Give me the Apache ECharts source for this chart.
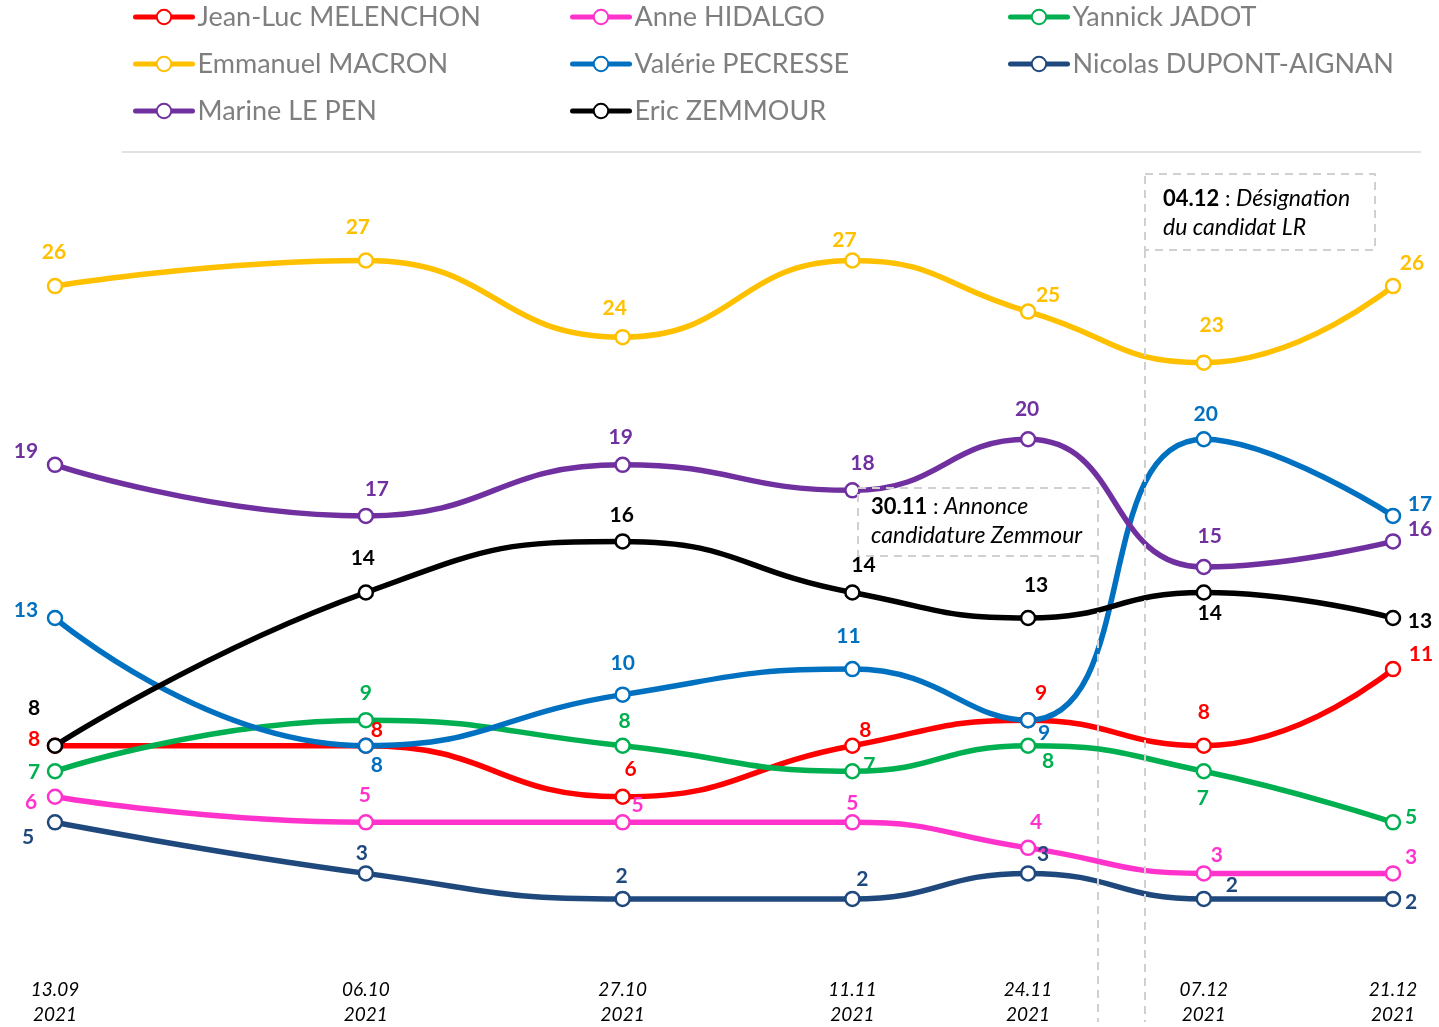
<!DOCTYPE html>
<html>
<head>
<meta charset="utf-8">
<title>Sondages présidentielle 2022</title>
<script src="https://cdn.jsdelivr.net/npm/echarts@6/dist/echarts.min.js"></script>
<style>
  html, body { margin: 0; padding: 0; background: #fff; }
  #main { width: 1439px; height: 1027px; }
</style>
</head>
<body>
<div id="main"></div>
<script>
var pollDay = [0, 23, 42, 59, 72, 85, 99];
var pollDate = ['13.09', '06.10', '27.10', '11.11', '24.11', '07.12', '21.12'];
var pollYear = '2021';

var melenchon = [8, 8, 6, 8, 9, 8, 11];
var hidalgo = [6, 5, 5, 5, 4, 3, 3];
var jadot = [7, 9, 8, 7, 8, 7, 5];
var macron = [26, 27, 24, 27, 25, 23, 26];
var pecresse = [13, 8, 10, 11, 9, 20, 17];
var dupontAignan = [5, 3, 2, 2, 3, 2, 2];
var lePen = [19, 17, 19, 18, 20, 15, 16];
var zemmour = [8, 14, 16, 14, 13, 14, 13];

var FONT = 'Lato, "Open Sans", sans-serif';

// decalage des etiquettes [dx, dy] par rapport au point
var labelShift = {
    mel: [[-21, -6], [11, -15], [8, -28], [13, -15], [13, -27], [0, -33], [28, -15]],
    hid: [[-24, 5], [-1, -27], [15, -17], [0, -19], [8, -26], [13, -18], [18, -16]],
    jad: [[-21, 1], [0, -27], [2, -24], [17, -6], [20, 16], [-1, 27], [18, -5]],
    mac: [[-1, -34], [-8, -33], [-8, -29], [-8, -20], [20, -16], [8, -37], [19, -23]],
    pec: [[-29, -8], [11, 20], [0, -31], [-4, -33], [16, 13], [2, -25], [27, -12]],
    nda: [[-27, 15], [-4, -20], [-1, -23], [10, -20], [15, -19], [28, -14], [18, 3]],
    lp: [[-29, -14], [11, -27], [-2, -28], [10, -27], [-1, -30], [6, -31], [27, -12]],
    zem: [[-21, -37], [-3, -34], [-1, -26], [11, -27], [8, -33], [6, 21], [27, 3]]
};

function makeSeries(name, key, values, color) {
    var data = [];
    for (var i = 0; i < values.length; i++) {
        data.push({
            value: [pollDay[i], values[i]],
            label: {offset: labelShift[key][i]}
        });
    }
    return {
        name: name,
        type: 'line',
        smooth: 0.5,
        clip: false,
        symbol: 'circle',
        symbolSize: 14,
        showAllSymbol: true,
        data: data,
        lineStyle: {color: color, width: 5.5},
        itemStyle: {color: '#fff', borderColor: color, borderWidth: 2.5},
        label: {
            show: true,
            position: 'inside',
            color: color,
            fontFamily: FONT,
            fontWeight: 'bold',
            fontSize: 21
        },
        emphasis: {disabled: true}
    };
}

var series = [
    makeSeries('Jean-Luc MELENCHON', 'mel', melenchon, '#ff0000'),
    makeSeries('Anne HIDALGO', 'hid', hidalgo, '#ff33cc'),
    makeSeries('Yannick JADOT', 'jad', jadot, '#00b050'),
    makeSeries('Emmanuel MACRON', 'mac', macron, '#ffc000'),
    makeSeries('Valérie PECRESSE', 'pec', pecresse, '#0070c0'),
    makeSeries('Nicolas DUPONT-AIGNAN', 'nda', dupontAignan, '#1f497d'),
    makeSeries('Marine LE PEN', 'lp', lePen, '#7030a0'),
    makeSeries('Eric ZEMMOUR', 'zem', zemmour, '#000000')
];

function legendCol(left, names) {
    return {
        left: left,
        top: 2,
        padding: 0,
        orient: 'vertical',
        data: names,
        itemWidth: 57,
        itemHeight: 18,
        itemGap: 17,
        selectedMode: false,
        lineStyle: {width: 5, cap: 'round'},
        textStyle: {
            color: '#7f7f7f',
            fontFamily: FONT,
            fontSize: 27,
            lineHeight: 30
        }
    };
}

var dash = {stroke: '#d0d0d0', lineWidth: 2, lineDash: [8, 6], fill: null};
var boxRich = {
    b: {fontWeight: 'bold', fontSize: 22, fontFamily: FONT, lineHeight: 29},
    i: {fontStyle: 'italic', fontSize: 23, fontFamily: FONT, lineHeight: 29}
};

var myChart = echarts.init(document.getElementById('main'));
var option = {
    animation: false,
    backgroundColor: '#fff',
    legend: [
        legendCol(133, ['Jean-Luc MELENCHON', 'Emmanuel MACRON', 'Marine LE PEN']),
        legendCol(570, ['Anne HIDALGO', 'Valérie PECRESSE', 'Eric ZEMMOUR']),
        legendCol(1008, ['Yannick JADOT', 'Nicolas DUPONT-AIGNAN'])
    ],
    grid: {left: 55, right: 46, top: 235, bottom: 77},
    xAxis: {
        type: 'value',
        min: 0,
        max: 99,
        axisLine: {show: false},
        axisTick: {show: false},
        splitLine: {show: false},
        axisLabel: {
            customValues: pollDay,
            margin: 27,
            fontFamily: FONT,
            fontStyle: 'italic',
            fontSize: 19,
            lineHeight: 25,
            color: '#000',
            formatter: function (v) {
                var i = pollDay.indexOf(v);
                return i < 0 ? '' : pollDate[i] + '\n' + pollYear;
            }
        }
    },
    yAxis: {
        type: 'value',
        min: 0,
        max: 28,
        show: false
    },
    graphic: [
        {type: 'line', shape: {x1: 122, y1: 152, x2: 1421, y2: 152}, style: {stroke: '#d9d9d9', lineWidth: 1.5}},
        {type: 'rect', z: 100, shape: {x: 858, y: 488, width: 240, height: 68}, style: dash},
        {type: 'line', z: 100, shape: {x1: 1098, y1: 556, x2: 1098, y2: 1022}, style: dash},
        {type: 'rect', z: 100, shape: {x: 1145, y: 174, width: 230, height: 76}, style: dash},
        {type: 'line', z: 100, shape: {x1: 1145, y1: 250, x2: 1145, y2: 1022}, style: dash},
        {
            type: 'text', z: 100, x: 871, y: 492,
            style: {
                text: '{b|30.11} : {i|Annonce}\n{i|candidature Zemmour}',
                fill: '#000', fontFamily: FONT, fontSize: 22, lineHeight: 29,
                rich: boxRich
            }
        },
        {
            type: 'text', z: 100, x: 1163, y: 184,
            style: {
                text: '{b|04.12} : {i|Désignation}\n{i|du candidat LR}',
                fill: '#000', fontFamily: FONT, fontSize: 22, lineHeight: 29,
                rich: boxRich
            }
        }
    ],
    series: series
};

myChart.setOption(option);
</script>
</body>
</html>
